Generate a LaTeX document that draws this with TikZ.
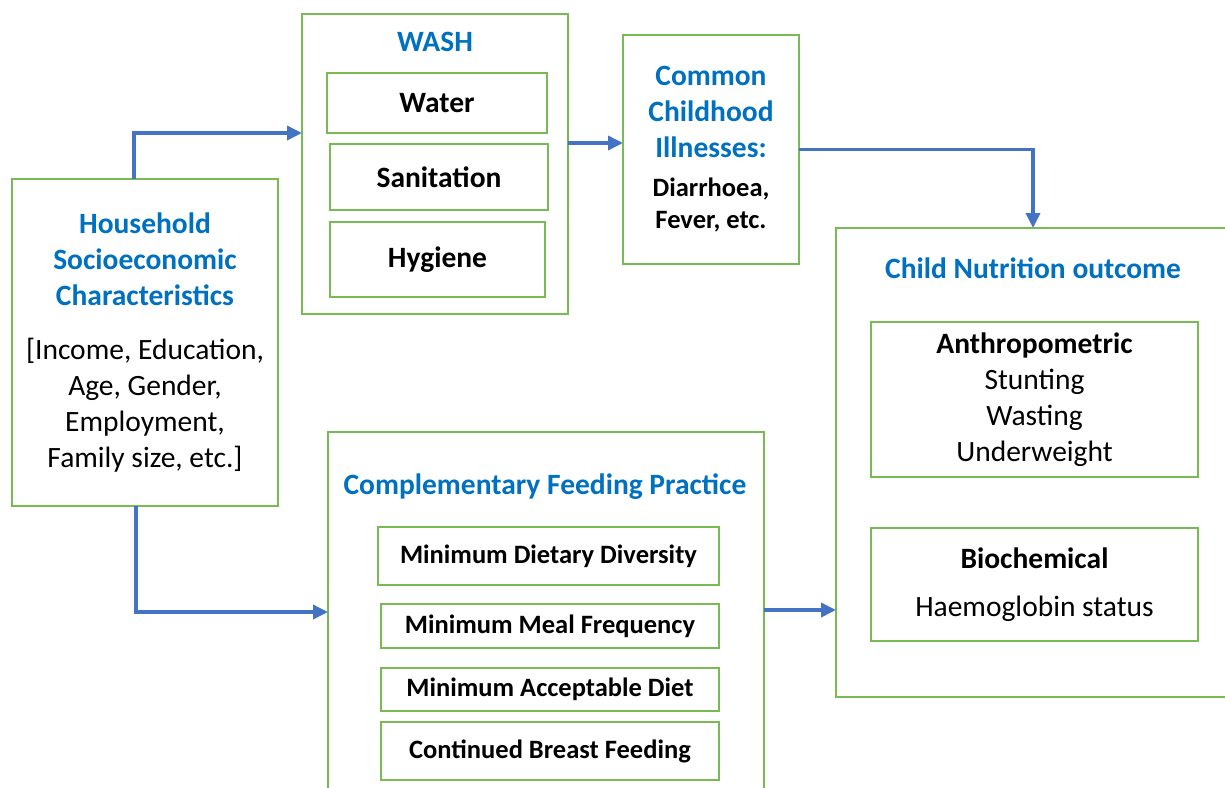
\documentclass[tikz,border=0pt]{standalone}
\usepackage{fontspec}
\setmainfont{Carlito}
\usepackage{xcolor}
\usetikzlibrary{arrows.meta,positioning}
\definecolor{framegreen}{RGB}{122,186,84}
\definecolor{titleblue}{RGB}{0,112,192}
\definecolor{flowblue}{RGB}{68,114,196}
\newcommand{\boxfont}{\fontsize{29.5}{36}\selectfont}
\newcommand{\itemfont}{\fontsize{26.5}{32}\selectfont}
\tikzset{
	factor/.style={draw=framegreen, line width=1.5pt, fill=white, inner sep=0pt, outer sep=0pt, align=flush center, font=\boxfont},
	item/.style={factor, font=\boxfont\bfseries},
	practice/.style={factor, font=\itemfont\bfseries},
	heading/.style={inner sep=0pt, text=titleblue, font=\boxfont\bfseries},
	flow/.style={draw=flowblue, line width=3.5pt, -{Triangle[length=15pt,width=14pt]}}
}

\begin{document}
\begin{tikzpicture}[x=1pt, y=-1pt]
			\useasboundingbox (0,0) rectangle (1225,787);
			\clip (0,0) rectangle (1225,787);

			\node[factor, minimum width=266, minimum height=327, text width=262] (household) at (145,342.5) {%
				{\color{titleblue}\bfseries Household\\Socioeconomic\\Characteristics\par}\vspace{18pt}%
				{[}Income, Education,\\Age, Gender,\\Employment,\\Family size, etc.]\par};

			% WASH diagram is drawn
			\node[factor, minimum width=266, minimum height=300] (wash) at (435,164) {};
			\node[heading] (wash-title) at (435,42) {WASH};
			\node[item, minimum width=220, minimum height=60] (wash-water) at (437,103) {Water};
			\node[item, minimum width=218, minimum height=66] (wash-sanitation) at (439,177) {Sanitation};
			\node[item, minimum width=215, minimum height=75] (wash-hygiene) at (437.5,259.5) {Hygiene};

			\node[factor, minimum width=176, minimum height=229, text width=172] (illness) at (711,149.5) {%
				{\color{titleblue}\bfseries Common\\Childhood\\Illnesses:\par}\vspace{7pt}%
				{\itemfont\bfseries Diarrhoea,\\Fever, etc.\par}};

			% Complementary feeding diagram is drawn
			\node[factor, minimum width=436, minimum height=368] (feeding) at (546,616) {};
			\node[heading] (feeding-title) at (545,487) {Complementary Feeding Practice};
			\node[practice, minimum width=341, minimum height=58] (feeding-1) at (548.5,556) {Minimum Dietary Diversity};
			\node[practice, minimum width=338, minimum height=44] (feeding-2) at (550,626) {Minimum Meal Frequency};
			\node[practice, minimum width=338, minimum height=43] (feeding-3) at (550,689.5) {Minimum Acceptable Diet};
			\node[practice, minimum width=338, minimum height=58] (feeding-4) at (550,751) {Continued Breast Feeding};

			% Nutrition outcome diagram is drawn
			\node[factor, minimum width=394, minimum height=469] (outcome) at (1033,462.5) {};
			\node[heading] (outcome-title) at (1033,268) {Child Nutrition outcome};
			\node[factor, minimum width=327, minimum height=155, text width=323] (outcome-1) at (1034.5,399.5) {%
				{\bfseries Anthropometric}\\Stunting\\Wasting\\Underweight\par};
			\node[factor, minimum width=327, minimum height=113, text width=323] (outcome-2) at (1034.5,584.5) {%
				{\bfseries Biochemical}\\[12pt]Haemoglobin status\par};

			\draw[flow] ([xshift=-11pt]household.north) |- ([yshift=31pt]wash.west);
			\draw[flow] ([yshift=21pt]wash.east) -- ([yshift=21pt]wash.east -| illness.west);
			\draw[flow] (illness.east) -| (outcome.north);
			\draw[flow] ([xshift=-9pt]household.south) |- ([yshift=4pt]feeding.west);
			\draw[flow] ([yshift=6pt]feeding.east) -- ([yshift=6pt]feeding.east -| outcome.west);
		\end{tikzpicture}
\end{document}
